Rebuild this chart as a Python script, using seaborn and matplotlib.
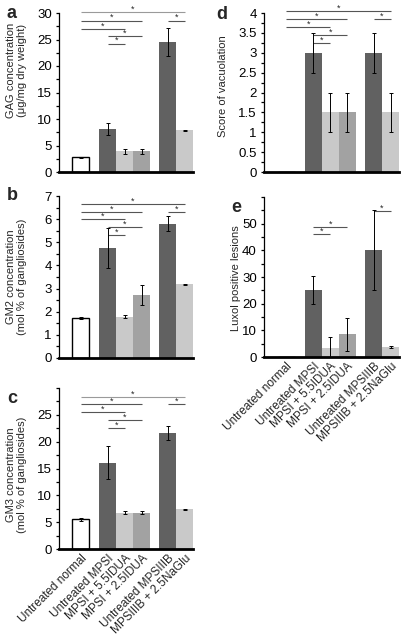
import pandas as pd
import matplotlib
matplotlib.use("Agg")
import matplotlib.pyplot as plt
from matplotlib.ticker import FixedLocator, FuncFormatter
import seaborn as sns

# groups (left to right)
categories = [
    "Untreated normal",
    "Untreated MPSI",
    "MPSI + 5.5IDUA",
    "MPSI + 2.5IDUA",
    "Untreated MPSIIIB",
    "MPSIIIB + 2.5NaGlu",
]

# a: GAG concentration (ug/mg dry weight)
gag_mean = [2.8, 8.1, 3.9, 3.9, 24.5, 7.9]
gag_err = [0.1, 1.1, 0.5, 0.5, 2.7, 0.1]
# b: GM2 concentration (mol % of gangliosides)
gm2_mean = [1.72, 4.75, 1.78, 2.72, 5.8, 3.18]
gm2_err = [0.05, 0.85, 0.07, 0.45, 0.33, 0.03]
# c: GM3 concentration (mol % of gangliosides)
gm3_mean = [5.5, 16.1, 6.8, 6.8, 21.6, 7.4]
gm3_err = [0.2, 3.0, 0.3, 0.3, 1.3, 0.1]
# d: score of vacuolation
vac_mean = [0.0, 3.0, 1.5, 1.5, 3.0, 1.5]
vac_err = [0.0, 0.5, 0.5, 0.5, 0.5, 0.5]
# e: luxol positive lesions
luxol_mean = [0.0, 25.0, 3.5, 8.5, 40.0, 3.8]
luxol_err = [0.0, 5.2, 4.0, 6.3, 15.0, 0.5]

# significance brackets: (from group, to group, bracket height in data units)
gag_sig = [(0, 5, 30.1), (0, 3, 28.55), (4, 5, 28.55), (0, 2, 27.0), (1, 3, 25.65), (1, 2, 24.2)]
gm2_sig = [(0, 5, 6.66), (0, 3, 6.31), (4, 5, 6.31), (0, 2, 6.01), (1, 3, 5.66), (1, 2, 5.32)]
gm3_sig = [(0, 5, 28.3), (0, 3, 27.0), (4, 5, 27.0), (0, 2, 25.5), (1, 3, 24.0), (1, 2, 22.5)]
vac_sig = [(0, 5, 4.05), (0, 3, 3.84), (4, 5, 3.84), (0, 2, 3.64), (1, 3, 3.44), (1, 2, 3.24)]
luxol_sig = [(1, 2, 46.1), (1, 3, 48.7), (4, 5, 54.7)]

positions = [0.0, 1.6, 2.6, 3.6, 5.15, 6.15]
palette = dict(zip(categories, ["#ffffff", "#616161", "#c9c9c9", "#a2a2a2", "#616161", "#c9c9c9"]))

sns.set_style("ticks")
plt.rcParams["font.family"] = ["Liberation Sans", "DejaVu Sans"]
plt.rcParams["mathtext.default"] = "regular"

W, H = 402, 638
fig = plt.figure(figsize=(W / 100, H / 100), dpi=100)


def px_axes(left, right, top, bottom):
    return fig.add_axes([left / W, 1 - bottom / H, (right - left) / W, (bottom - top) / H])


def draw_panel(ax, means, errs, sig, ylim, major, minor, ylabel, label_x, label_y,
               show_names, label_max=None, light_top=False):
    df = pd.DataFrame({"pos": positions, "group": categories, "value": means})
    sns.barplot(data=df, x="pos", y="value", hue="group", palette=palette,
                native_scale=True, dodge=False, width=1.0, saturation=1,
                errorbar=None, legend=False, linewidth=0, ax=ax)
    for p in ax.patches:
        if abs(p.get_x() + p.get_width() / 2 - positions[0]) < 0.1:
            p.set_edgecolor("black")
            p.set_linewidth(1.0)
    ax.errorbar(positions, means, yerr=errs, fmt="none", ecolor="black",
                elinewidth=0.7, capsize=1.5, capthick=0.7, zorder=3)

    for k, (i, j, y) in enumerate(sig):
        col = "#9a9a9a" if (light_top and k == 0) else "#555555"
        ax.plot([positions[i], positions[j]], [y, y], color=col, lw=0.8,
                clip_on=False, solid_capstyle="butt")
        ax.annotate("*", xy=((positions[i] + positions[j]) / 2, y), xytext=(0, 2.2),
                    textcoords="offset points", ha="center", va="center",
                    fontsize=6.5, annotation_clip=False)

    ax.set_xlim(-1.3, 6.65)
    ax.set_ylim(*ylim)
    top = label_max if label_max is not None else ylim[1]
    majors = []
    v = ylim[0]
    while v <= top + 1e-9:
        majors.append(round(v, 4))
        v += major
    minors = []
    v = ylim[0]
    while v <= ylim[1] + 1e-9:
        if all(abs(v - m) > 1e-6 for m in majors):
            minors.append(round(v, 4))
        v += minor
    ax.yaxis.set_major_locator(FixedLocator(majors))
    ax.yaxis.set_minor_locator(FixedLocator(minors))
    ax.yaxis.set_major_formatter(FuncFormatter(lambda x, _: f"{x:g}"))
    ax.tick_params(axis="y", which="both", direction="out", length=2.2, width=0.9,
                   labelsize=9.5, pad=3, colors="black")

    ax.set_xticks(positions)
    if show_names:
        ax.set_xticklabels(categories, rotation=45, ha="right", va="top",
                           rotation_mode="anchor", fontsize=8.5)
    else:
        ax.set_xticklabels([])
    ax.tick_params(axis="x", length=0, pad=2.5)
    ax.set_xlabel("")

    ax.set_ylabel(ylabel, fontsize=8, linespacing=1.15)
    ax.yaxis.set_label_coords(label_x, label_y)

    sns.despine(ax=ax)
    ax.spines["left"].set_linewidth(0.9)
    ax.spines["left"].set_color("black")
    ax.spines["bottom"].set_linewidth(2.0)
    ax.spines["bottom"].set_color("black")
    ax.set_facecolor("none")


ax_a = px_axes(59, 193, 13, 172)
ax_b = px_axes(59, 193, 196, 358)
ax_c = px_axes(59, 193, 388, 549)
ax_d = px_axes(264, 399, 13, 172)
ax_e = px_axes(264, 399, 197, 357)

draw_panel(ax_a, gag_mean, gag_err, gag_sig, (0, 30), 5, 2.5,
           "GAG concentration\n(\u03bcg/mg dry weight)", -0.24, 0.64, False, light_top=True)
draw_panel(ax_b, gm2_mean, gm2_err, gm2_sig, (0, 7), 1, 0.5,
           "GM2 concentration\n(mol % of gangliosides)", -0.24, 0.5, False)
draw_panel(ax_c, gm3_mean, gm3_err, gm3_sig, (0, 30), 5, 2.5,
           "GM3 concentration\n(mol % of gangliosides)", -0.24, 0.46, True,
           label_max=25, light_top=True)
draw_panel(ax_d, vac_mean, vac_err, vac_sig, (0, 4), 0.5, 0.25,
           "Score of vacuolation", -0.27, 0.54, False)
draw_panel(ax_e, luxol_mean, luxol_err, luxol_sig, (0, 60), 10, 5,
           "Luxol positive lesions", -0.17, 0.49, True, label_max=50)

for letter, x, y in [("a", 12, 18), ("b", 12, 200), ("c", 12, 403), ("d", 222, 19), ("e", 236, 212)]:
    fig.text(x / W, 1 - y / H, letter, fontsize=13, fontweight="bold",
             ha="center", va="baseline")

fig.savefig("out.png", dpi=100)
